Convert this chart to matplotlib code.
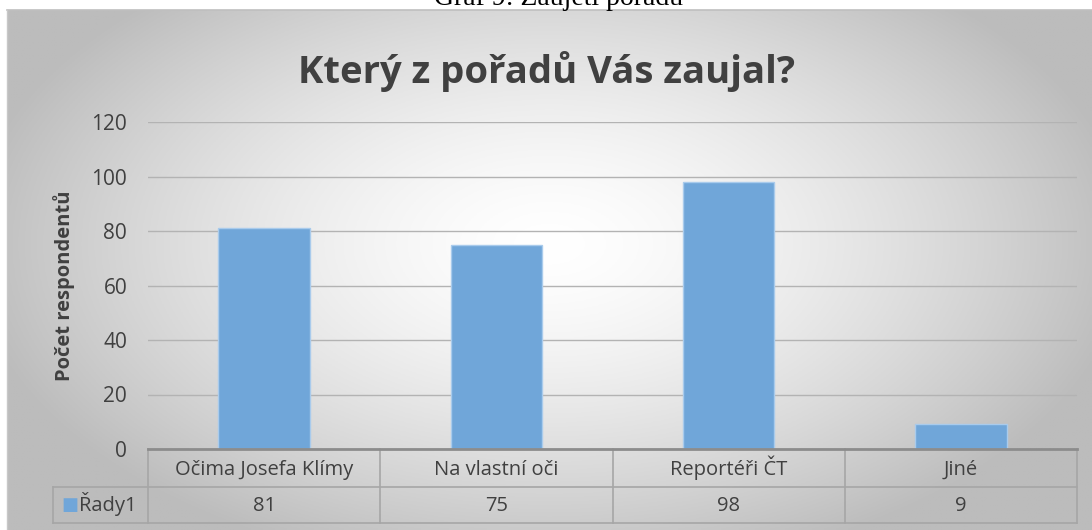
import numpy as np
import matplotlib
matplotlib.use("Agg")
import matplotlib.pyplot as plt
from matplotlib.colors import to_rgb

# ---- data ----
categories = ["Očima Josefa Klímy", "Na vlastní oči", "Reportéři ČT", "Jiné"]
values = [81, 75, 98, 9]
series_name = "Řady1"
yticks = [0, 20, 40, 60, 80, 100, 120]
title = "Který z pořadů Vás zaujal?"
ylabel = "Počet respondentů"
caption = "Graf 9: Zaujetí pořadu"

W, H = 1092, 530
fig = plt.figure(figsize=(W / 100, H / 100), dpi=100)
fig.patch.set_facecolor("white")

FONT = "Open Sans"
TXT = "#404040"

# ---- background (radial gradient) ----
bx0, by0 = 7, 10  # chart area left/top in px
bg = fig.add_axes([bx0 / W, 0, 1 - bx0 / W, 1 - by0 / H])
bg.set_axis_off()
nx, ny = 400, 200
xx, yy = np.meshgrid(np.linspace(-1, 1, nx), np.linspace(-1, 1, ny))
cx, cy = 0.0, -0.1
r = np.sqrt(((xx - cx) / 1.0) ** 2 + ((yy - cy) / 1.2) ** 2)
t = np.clip(r / 1.08, 0, 1) ** 1.5
c_in = np.array(to_rgb("#ffffff"))
c_out = np.array(to_rgb("#bcbcbc"))
img = c_in[None, None, :] * (1 - t[..., None]) + c_out[None, None, :] * t[..., None]
bg.imshow(img, aspect="auto", extent=[0, 1, 0, 1], origin="upper")
bg.set_xlim(0, 1)
bg.set_ylim(0, 1)
# top / left border lines
fig.add_artist(plt.Line2D([bx0 / W, 1], [1 - by0 / H, 1 - by0 / H],
                          transform=fig.transFigure, color="#bfbfbf", lw=1.2))
fig.add_artist(plt.Line2D([bx0 / W, bx0 / W], [0, 1 - by0 / H],
                          transform=fig.transFigure, color="#c8c8c8", lw=1.0))

# caption (cut off at top, as in the source)
fig.text(559 / W, 1 - 5 / H, caption, ha="center", va="baseline",
         fontsize=20, family="Liberation Serif", color="black")

# ---- plot axes ----
L, R, T, B = 148, 1077, 122, 449
ax = fig.add_axes([L / W, 1 - B / H, (R - L) / W, (B - T) / H])
ax.patch.set_alpha(0)
n = len(categories)
x = np.arange(n)
ax.set_xlim(-0.5, n - 0.5)
ax.set_ylim(0, 120)
ax.bar(x, values, width=0.395, color="#70a6d9", edgecolor="#a9cbec", linewidth=1.0, zorder=3)

ax.set_yticks(yticks)
ax.set_yticklabels([str(v) for v in yticks])
ax.tick_params(axis="y", length=0, pad=15, labelsize=15, labelcolor=TXT)
for lab in ax.get_yticklabels():
    lab.set_family(FONT)
ax.set_xticks([])
ax.yaxis.grid(True, color="#b3b3b3", lw=1.0, zorder=0)
for s in ["top", "right", "left"]:
    ax.spines[s].set_visible(False)
ax.spines["bottom"].set_color("#8c8c8c")
ax.spines["bottom"].set_linewidth(2.0)
ax.spines["bottom"].set_zorder(4)

ax.set_ylabel(ylabel, fontsize=14.5, fontweight="bold", color=TXT, family=FONT, labelpad=12)

# title
fig.text(546 / W, 1 - 72 / H, title, ha="center", va="center",
         fontsize=27.5, fontweight="bold", color=TXT, family=FONT)

# ---- data table under the axis ----
ph = B - T
def fy(py):
    return -(py - B) / ph
row1 = fy(487)
row2 = fy(523)
base1 = fy(475)
base2 = fy(511)
trans = ax.get_xaxis_transform()
lc = "#a6a6a6"
leg_left = -0.5 - (L - 53) / ((R - L) / n)
ax.plot([leg_left, n - 0.5], [row1, row1], transform=trans, color=lc, lw=1.2, clip_on=False)
ax.plot([leg_left, n - 0.5], [row2, row2], transform=trans, color=lc, lw=1.2, clip_on=False)
for b in np.arange(n + 1) - 0.5:
    ax.plot([b, b], [0, row2], transform=trans, color=lc, lw=1.2, clip_on=False)
ax.plot([leg_left, leg_left], [row1, row2], transform=trans, color=lc, lw=1.2, clip_on=False)

TS = 14.5
for i, (c, v) in enumerate(zip(categories, values)):
    ax.text(i, base1, c, transform=trans, ha="center", va="baseline",
            fontsize=TS, color=TXT, family=FONT, clip_on=False)
    ax.text(i, base2, str(v), transform=trans, ha="center", va="baseline",
            fontsize=TS, color=TXT, family=FONT, clip_on=False)

# legend key in table
ax.text(leg_left + 0.037, fy(505), "■", transform=trans, ha="left", va="center",
        fontsize=13, color="#70a6d9", family="DejaVu Sans", clip_on=False)
ax.text(leg_left + 0.112, base2, series_name, transform=trans, ha="left", va="baseline",
        fontsize=TS, color=TXT, family=FONT, clip_on=False)

fig.savefig("out.png", dpi=100)
